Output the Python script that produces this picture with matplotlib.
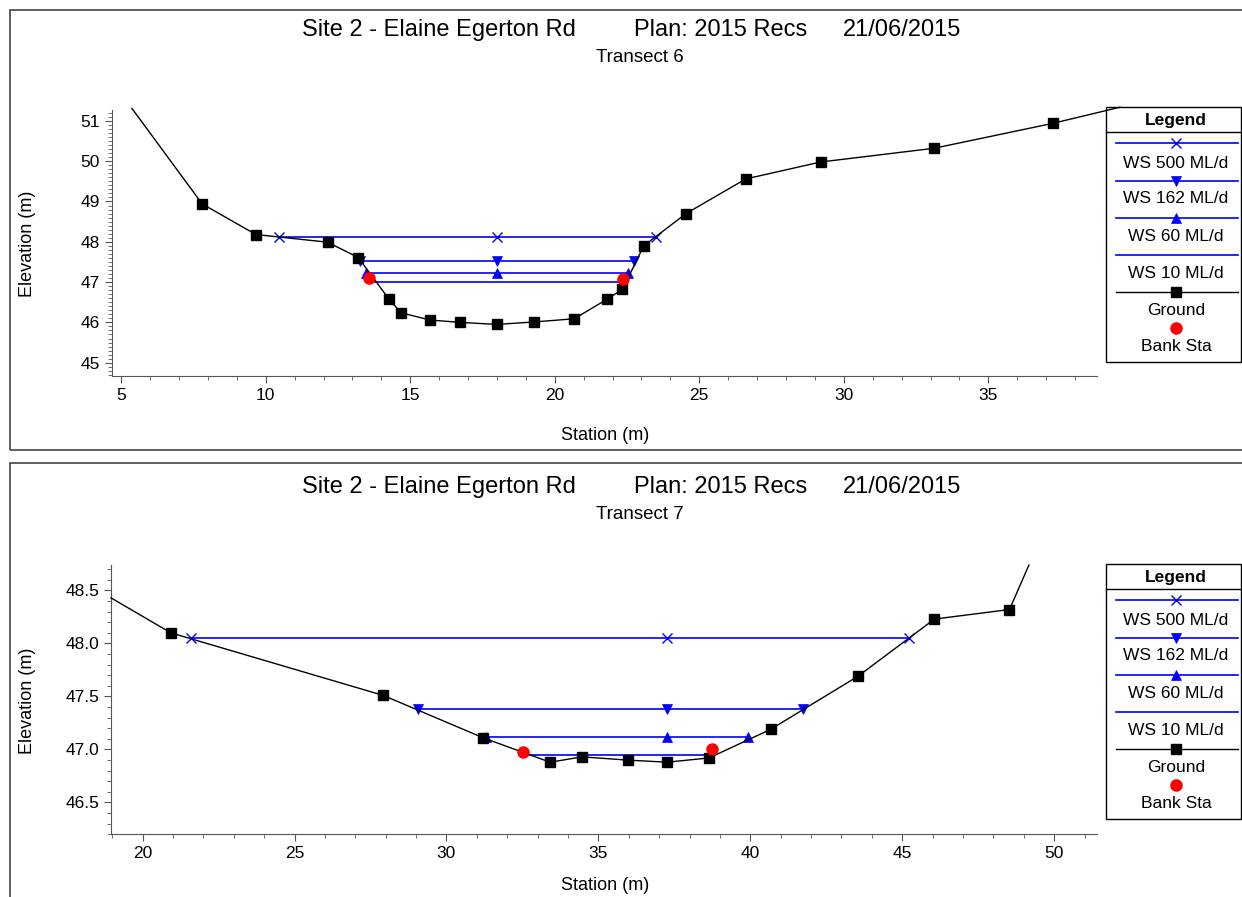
import matplotlib
matplotlib.use("Agg")
import matplotlib.pyplot as plt
from matplotlib.lines import Line2D
from matplotlib.patches import Rectangle
from matplotlib.ticker import MultipleLocator, FormatStrFormatter

plt.rcParams['font.family'] = ['Liberation Sans', 'DejaVu Sans']

W, H = 1242, 897

# ---- Transect 6 ----
t6_station = [5.37, 7.80, 9.66, 12.14, 13.20, 14.27, 14.68, 15.67, 16.73, 17.99,
              19.27, 20.67, 21.80, 22.34, 23.08, 24.54, 26.61, 29.20, 33.12, 37.24, 39.56]
t6_elev = [51.31, 48.94, 48.18, 47.99, 47.61, 46.57, 46.24, 46.06, 46.00, 45.95,
           46.01, 46.09, 46.57, 46.82, 47.90, 48.70, 49.56, 49.98, 50.32, 50.94, 51.34]
t6_bank_sta = [13.57, 22.37]
t6_bank_elev = [47.11, 47.08]
t6_ws_elev = [48.12, 47.52, 47.23, 47.01]
t6_ws_left = [10.47, 13.25, 13.47, 13.72]
t6_ws_mid = [17.99, 17.99, 17.99, None]
t6_ws_right = [23.51, 22.74, 22.55, 22.38]

# ---- Transect 7 ----
t7_station = [18.96, 20.93, 27.92, 31.21, 33.41, 34.46, 35.97, 37.25, 38.64,
              40.67, 43.54, 46.06, 48.53, 49.17]
t7_elev = [48.43, 48.10, 47.51, 47.11, 46.88, 46.93, 46.90, 46.88, 46.92,
           47.19, 47.69, 48.23, 48.32, 48.74]
t7_bank_sta = [32.53, 38.74]
t7_bank_elev = [46.98, 47.00]
t7_ws_elev = [48.05, 47.38, 47.12, 46.95]
t7_ws_left = [21.58, 29.07, 31.29, 32.62]
t7_ws_mid = [37.25, 37.25, 37.25, None]
t7_ws_right = [45.22, 41.75, 39.91, 38.70]

ws_labels = ['WS 500 ML/d', 'WS 162 ML/d', 'WS 60 ML/d', 'WS 10 ML/d']
ws_markers = ['x', 'v', '^', None]

BLUE = '#0000ff'
GREY = '#555555'


def px(x, y):
    return x / W, 1 - y / H


def draw_section(ax, sta, elev, bank_sta, bank_elev, ws_elev, ws_l, ws_m, ws_r):
    for w, l, m, r, mk in zip(ws_elev, ws_l, ws_m, ws_r, ws_markers):
        xs = [l, m, r] if m is not None else [l, r]
        ax.plot(xs, [w] * len(xs), color=BLUE, lw=1.2, marker=mk,
                markersize=7, markeredgewidth=1.0 if mk == 'x' else 0.5)
    ax.plot(sta, elev, color='black', lw=1.0, marker='s', markersize=7,
            markevery=slice(1, len(sta) - 1), clip_on=False, zorder=3)
    ax.plot(bank_sta, bank_elev, 'o', color='red', markersize=8, zorder=4)
    for s in ['top', 'right']:
        ax.spines[s].set_visible(False)
    for s in ['left', 'bottom']:
        ax.spines[s].set_color(GREY)
    ax.xaxis.set_major_locator(MultipleLocator(5))
    ax.xaxis.set_minor_locator(MultipleLocator(1))
    ax.yaxis.set_minor_locator(MultipleLocator(0.1))
    ax.tick_params(which='both', direction='out', color=GREY, labelsize=12.5)
    ax.tick_params(which='major', length=5)
    ax.tick_params(which='minor', length=3)


def draw_legend(fig, top):
    left, right = 1106, 1241
    fig.add_artist(Rectangle(px(left, top + 254.4), (right - left) / W, 254.4 / H,
                             transform=fig.transFigure, fill=False,
                             edgecolor='black', lw=1.0))
    fig.add_artist(Line2D([left / W, right / W], [1 - (top + 25) / H] * 2,
                          transform=fig.transFigure, color='black', lw=1.0))
    fig.text(*px(1176, top + 13.5), 'Legend', ha='center', va='center',
             fontsize=12.5, fontweight='bold')
    line_y = [36, 73.4, 111, 147.7]
    text_y = [56, 91, 129.4, 166]
    for lab, mk, ly, ty in zip(ws_labels, ws_markers, line_y, text_y):
        fig.add_artist(Line2D([1115.7 / W, 1237.7 / W], [1 - (top + ly) / H] * 2,
                              transform=fig.transFigure, color=BLUE, lw=1.2))
        if mk is not None:
            fig.add_artist(Line2D([1176 / W], [1 - (top + ly) / H], transform=fig.transFigure,
                                  color=BLUE, marker=mk, markersize=7, lw=0,
                                  markeredgewidth=1.0 if mk == 'x' else 0.5))
        fig.text(*px(1176, top + ty), lab, ha='center', va='center', fontsize=12.5)
    fig.add_artist(Line2D([1115.7 / W, 1237.7 / W], [1 - (top + 184.4) / H] * 2,
                          transform=fig.transFigure, color='black', lw=1.0))
    fig.add_artist(Line2D([1176 / W], [1 - (top + 184.4) / H], transform=fig.transFigure,
                          color='black', marker='s', markersize=7, lw=0))
    fig.text(*px(1176, top + 202.7), 'Ground', ha='center', va='center', fontsize=12.5)
    fig.add_artist(Line2D([1176 / W], [1 - (top + 220.4) / H], transform=fig.transFigure,
                          color='red', marker='o', markersize=8, lw=0))
    fig.text(*px(1176, top + 239.4), 'Bank Sta', ha='center', va='center', fontsize=12.5)


def draw_titles(fig, top, transect):
    fig.text(*px(302, top + 30), 'Site 2 - Elaine Egerton Rd', ha='left', va='center', fontsize=17)
    fig.text(*px(634, top + 30), 'Plan: 2015 Recs', ha='left', va='center', fontsize=17)
    fig.text(*px(843, top + 30), '21/06/2015', ha='left', va='center', fontsize=17)
    fig.text(*px(640, top + 57), transect, ha='center', va='center', fontsize=13.5)


fig = plt.figure(figsize=(W / 100, H / 100), dpi=100)

# panel frames
fig.add_artist(Rectangle(px(10, 450), 1240 / W, 440 / H, transform=fig.transFigure,
                         fill=False, edgecolor='#444444', lw=1.2))
fig.add_artist(Rectangle(px(10, 910), 1240 / W, 447 / H, transform=fig.transFigure,
                         fill=False, edgecolor='#444444', lw=1.2))

ax1 = fig.add_axes([111.7 / W, 1 - 376 / H, (1096.7 - 111.7) / W, (376 - 110) / H])
draw_section(ax1, t6_station, t6_elev, t6_bank_sta, t6_bank_elev,
             t6_ws_elev, t6_ws_left, t6_ws_mid, t6_ws_right)
ax1.set_xlim(4.67, 38.75)
ax1.set_ylim(44.67, 51.27)
ax1.yaxis.set_major_locator(MultipleLocator(1))

ax2 = fig.add_axes([111 / W, 1 - 834.3 / H, (1096.7 - 111) / W, (834.3 - 565) / H])
draw_section(ax2, t7_station, t7_elev, t7_bank_sta, t7_bank_elev,
             t7_ws_elev, t7_ws_left, t7_ws_mid, t7_ws_right)
ax2.set_xlim(18.96, 51.40)
ax2.set_ylim(46.2, 48.74)
ax2.yaxis.set_major_locator(MultipleLocator(0.5))
ax2.yaxis.set_major_formatter(FormatStrFormatter('%.1f'))

for top, transect, xlab_y in [(0, 'Transect 6', 435), (457, 'Transect 7', 885)]:
    draw_titles(fig, top, transect)
    draw_legend(fig, 107.3 + top)
    fig.text(*px(27, 244 + top), 'Elevation (m)', rotation=90, ha='center', va='center', fontsize=13)
    fig.text(*px(605, xlab_y), 'Station (m)', ha='center', va='center', fontsize=13)

fig.savefig('out.png', dpi=100)
